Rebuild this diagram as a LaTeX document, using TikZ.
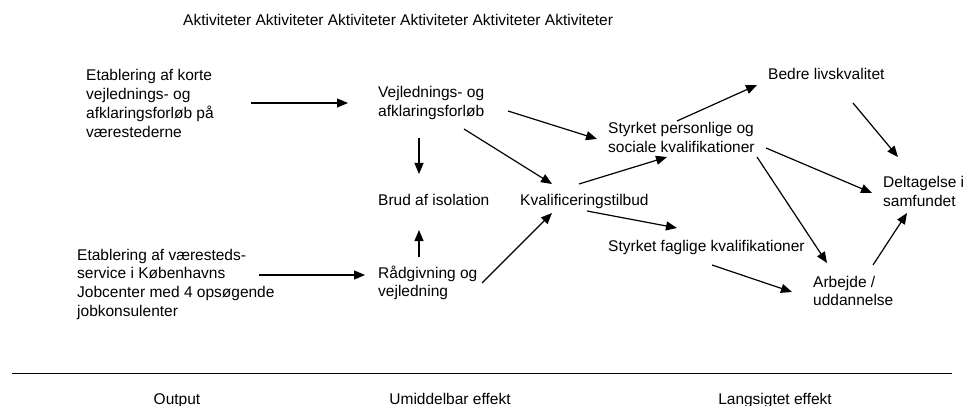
\documentclass[tikz,border=0pt]{standalone}
\usepackage{fontspec}
\setmainfont{Liberation Sans}
\usetikzlibrary{arrows.meta}
\begin{document}
\begin{tikzpicture}[x=1pt,y=-1pt,
  txt/.style={anchor=base west,inner sep=0pt,align=left,font=\fontsize{15.5}{18.7}\selectfont},
  lbl/.style={anchor=base,inner sep=0pt,font=\fontsize{15.5}{18.7}\selectfont},
  arr/.style={line width=1.2pt,-{Triangle[length=11pt,width=9pt]}}]
\useasboundingbox (0,0) rectangle (966,406);
% texts (anchor = baseline of the last line)
\node[txt] (title) at (183,26) {Aktiviteter Aktiviteter Aktiviteter Aktiviteter Aktiviteter Aktiviteter};
\node[txt] (t1) at (86,137.1) {Etablering af korte\\vejlednings- og\\afklaringsforløb på\\værestederne};
\node[txt] (t2) at (77,316.1) {Etablering af væresteds-\\service i Københavns\\Jobcenter med 4 opsøgende\\jobkonsulenter};
\node[txt] (vejl) at (378,116.7) {Vejlednings- og\\afklaringsforløb};
\node[txt] (brud) at (378,206) {Brud af isolation};
\node[txt] (radg) at (378,296.7) {Rådgivning og\\vejledning};
\node[txt] (kval) at (520,206) {Kvalificeringstilbud};
\node[txt] (sp) at (608,152.7) {Styrket personlige og\\sociale kvalifikationer};
\node[txt] (sf) at (608,251) {Styrket faglige kvalifikationer};
\node[txt] (bedre) at (768,80) {Bedre livskvalitet};
\node[txt] (delt) at (883,206.7) {Deltagelse i\\samfundet};
\node[txt] (arb) at (813,305.7) {Arbejde /\\uddannelse};
\node[lbl] (out) at (177,404) {Output};
\node[lbl] (umi) at (450,404) {Umiddelbar effekt};
\node[lbl] (lang) at (775,404) {Langsigtet effekt};
% arrow end points
\coordinate (a1s) at (251,103); \coordinate (a1e) at (348,103);
\coordinate (a2s) at (259,275); \coordinate (a2e) at (365,275);
\coordinate (a3s) at (419,138); \coordinate (a3e) at (419,174);
\coordinate (a4s) at (419,257); \coordinate (a4e) at (419,230);
\coordinate (a5s) at (464,129); \coordinate (a5e) at (552,184);
\coordinate (a6s) at (508,111); \coordinate (a6e) at (597,139);
\coordinate (a7s) at (482,283); \coordinate (a7e) at (552,213);
\coordinate (a8s) at (579,184); \coordinate (a8e) at (667,157);
\coordinate (a9s) at (587,211); \coordinate (a9e) at (677,228);
\coordinate (a10s) at (677,121); \coordinate (a10e) at (757,85);
\coordinate (a11s) at (853,103); \coordinate (a11e) at (898,157);
\coordinate (a12s) at (766,148); \coordinate (a12e) at (872,193);
\coordinate (a13s) at (757,157); \coordinate (a13e) at (827,263);
\coordinate (a14s) at (712,265); \coordinate (a14e) at (792,292);
\coordinate (a15s) at (873,265); \coordinate (a15e) at (907,213);
\coordinate (ls) at (12,373); \coordinate (le) at (952,373);
% connectors
\foreach \i in {1,...,15} \draw[arr] (a\i s) -- (a\i e);
\draw[line width=1pt] (ls) -- (le);
\end{tikzpicture}
\end{document}
